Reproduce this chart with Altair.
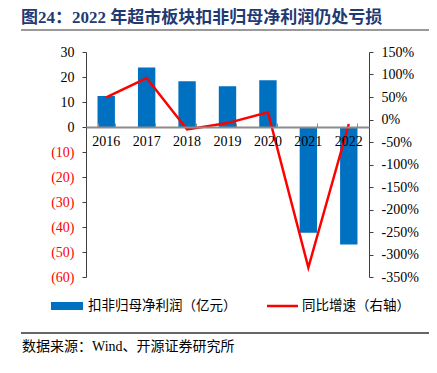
import altair as alt
import pandas as pd

years = ["2016", "2017", "2018", "2019", "2020", "2021", "2022"]
profit = [12.4, 23.8, 18.3, 16.3, 18.7, -42.3, -47.0]
yoy = [49, 92, -22, -8, 16, -329, -10]

title_text = "图24：2022 年超市板块扣非归母净利润仍处亏损"
legend_bar = "扣非归母净利润（亿元）"
legend_line = "同比增速（右轴）"
source_text = "数据来源：Wind、开源证券研究所"

FONT = "'Liberation Serif', 'Noto Sans CJK SC'"
BLUE = "#0070C0"
RED = "#FF0000"

df = pd.DataFrame({"year": years, "profit": profit, "yoy": yoy})
one = pd.DataFrame({"a": [0]})

bars = alt.Chart(df).mark_bar(color=BLUE).encode(
    x=alt.X("year:N", sort=years,
            scale=alt.Scale(paddingInner=0.57, paddingOuter=0.285),
            axis=alt.Axis(orient="top", offset=-75, labels=False, title=None,
                          domainColor="#8c8c8c", domainWidth=2,
                          tickColor="#8c8c8c", tickSize=4, tickBand="extent",
                          zindex=1)),
    y=alt.Y("profit:Q",
            scale=alt.Scale(domain=[-60, 30], nice=False, zero=False),
            axis=alt.Axis(orient="left", title=None, grid=False,
                          values=list(range(-60, 31, 10)),
                          labelExpr="datum.value < 0 ? '(' + (-datum.value) + ')' : '' + datum.value",
                          labelColor={"condition": {"test": "datum.value < 0", "value": RED}, "value": "#000000"},
                          labelFont=FONT, labelFontSize=14, labelPadding=8,
                          domainColor="#404040", tickColor="#404040", tickSize=4)),
)

line = alt.Chart(df).mark_line(color=RED, strokeWidth=2.5).encode(
    x=alt.X("year:N", sort=years,
            axis=alt.Axis(orient="bottom", offset=-150, domain=False, ticks=False,
                          labelPadding=7, labelFont=FONT, labelFontSize=14,
                          labelColor="#000000", labelAngle=0, title=None,
                          zindex=2)),
    y=alt.Y("yoy:Q",
            scale=alt.Scale(domain=[-350, 150], nice=False, zero=False),
            axis=alt.Axis(orient="right", title=None, grid=False,
                          values=list(range(-350, 151, 50)),
                          labelExpr="datum.value + '%'",
                          labelFont=FONT, labelFontSize=14, labelPadding=8,
                          labelColor="#000000",
                          domainColor="#404040", tickColor="#404040", tickSize=4)),
)

title = alt.Chart(one).mark_text(
    text=title_text, font=FONT, fontSize=17, fontWeight="bold",
    color="#1F3A73", align="left", baseline="middle"
).encode(x=alt.value(-65), y=alt.value(-34))

title_rule = alt.Chart(one).mark_rule(color="#9a9a9a", strokeWidth=2).encode(
    x=alt.value(-65), x2=alt.value(347), y=alt.value(-22))

leg_patch = alt.Chart(one).mark_rect(color=BLUE).encode(
    x=alt.value(-35), x2=alt.value(-3), y=alt.value(250), y2=alt.value(258))
leg_text1 = alt.Chart(one).mark_text(
    text=legend_bar, font=FONT, fontSize=13.5, color="#000000",
    align="left", baseline="middle").encode(x=alt.value(2), y=alt.value(254))
leg_line = alt.Chart(one).mark_rule(color=RED, strokeWidth=2.5).encode(
    x=alt.value(181), x2=alt.value(212), y=alt.value(254))
leg_text2 = alt.Chart(one).mark_text(
    text=legend_line, font=FONT, fontSize=13.5, color="#000000",
    align="left", baseline="middle").encode(x=alt.value(216), y=alt.value(254))

bottom_rule = alt.Chart(one).mark_rule(color="#333333", strokeWidth=1.5).encode(
    x=alt.value(-65), x2=alt.value(347), y=alt.value(281))
source = alt.Chart(one).mark_text(
    text=source_text, font=FONT, fontSize=14, color="#000000",
    align="left", baseline="middle").encode(x=alt.value(-64), y=alt.value(295))

chart = alt.layer(
    bars, line, title, title_rule, leg_patch, leg_text1, leg_line, leg_text2,
    bottom_rule, source
).resolve_scale(y="independent").resolve_axis(x="independent", y="independent").properties(
    width=283, height=225,
    autosize=alt.AutoSizeParams(type="none"),
    padding={"left": 78, "top": 44, "right": 60, "bottom": 88},
).configure_view(stroke=None)

chart.save("out.html", embed_options={"renderer": "svg", "actions": False})
